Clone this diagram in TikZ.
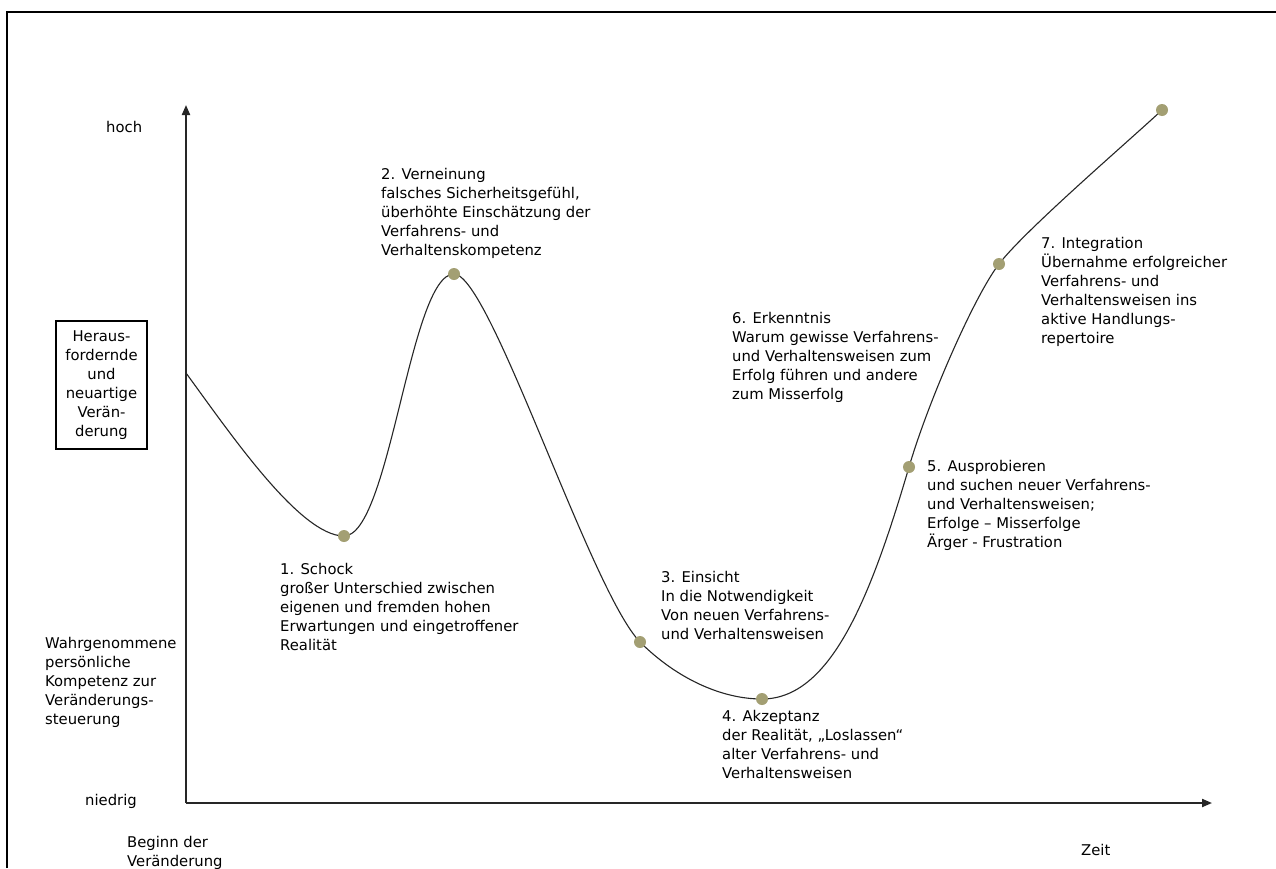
\documentclass[tikz,border=0pt]{standalone}
\usepackage{fontspec}
\setmainfont{DejaVu Sans}
\usetikzlibrary{arrows.meta}
\definecolor{stagecol}{HTML}{A39F73}
\begin{document}
\begin{tikzpicture}[x=1pt,y=-1pt,
  lbl/.style={anchor=north west, inner sep=0pt, align=left,
    font=\fontsize{14.8}{19}\selectfont},
  axisline/.style={line width=2pt, black!85, -{Triangle[length=10pt,width=8pt]}},
  curveline/.style={line width=1.1pt, black!85},
  stagedot/.style={circle, fill=stagecol, minimum size=12pt, inner sep=0pt},
  framebox/.style={draw, line width=1.6pt, inner sep=0pt, minimum width=91pt,
    minimum height=128pt, align=center, font=\fontsize{14.8}{19}\selectfont}]
\useasboundingbox (0,0) rectangle (1276,868);
\fill[white] (0,0) rectangle (1276,868);
% outer frame (top and left edges)
\draw[line width=2pt] (7,868) -- (7,12) -- (1276,12);

% axes
\coordinate (origin) at (186,803);
\coordinate (ytip) at (186,105);
\coordinate (xtip) at (1212,803);
\draw[axisline] (origin) -- (ytip);
\draw[axisline] (origin) -- (xtip);

% axis labels
\node[lbl] (hoch) at (106,121) {hoch};
\node[lbl] (niedrig) at (85,794) {niedrig};
\node[lbl] (kompetenz) at (45,637) {Wahrgenommene\\persönliche\\Kompetenz zur\\Veränderungs-\\steuerung};
\node[lbl] (beginn) at (127,836) {Beginn der\\Veränderung};
\node[lbl] (zeit) at (1081,844) {Zeit};
\node[framebox] (trigger) at (101.5,385) {Heraus-\\fordernde\\und\\neuartige\\Verän-\\derung};

% stages on the curve
\coordinate (s0) at (186,373);
\coordinate (s1) at (344,536);
\coordinate (s2) at (454,274);
\coordinate (s3) at (640,642);
\coordinate (s4) at (762,699);
\coordinate (s5) at (909,467);
\coordinate (s6) at (999,264);
\coordinate (s7) at (1162,110);

\draw[curveline] (s0)
  .. controls (230,433) and (300,536) .. (s1)
  .. controls (390,536) and (410,274) .. (s2)
  .. controls (490,274) and (590,590) .. (s3)
  .. controls (675,677) and (720,699) .. (s4)
  .. controls (830,699) and (870,600) .. (s5)
  .. controls (929,399) and (975,295) .. (s6)
  .. controls (1025,230) and (1130,140) .. (s7);

\foreach \s in {s1,s2,s3,s4,s5,s6,s7}
  \node[stagedot] (dot-\s) at (\s) {};

% stage descriptions
\node[lbl] (l1) at (280,563) {1. Schock\\großer Unterschied zwischen\\eigenen und fremden hohen\\Erwartungen und eingetroffener\\Realität};
\node[lbl] (l2) at (381,168) {2. Verneinung\\falsches Sicherheitsgefühl,\\überhöhte Einschätzung der\\Verfahrens- und\\Verhaltenskompetenz};
\node[lbl] (l3) at (661,571) {3. Einsicht\\In die Notwendigkeit\\Von neuen Verfahrens-\\und Verhaltensweisen};
\node[lbl] (l4) at (722,710) {4. Akzeptanz\\der Realität, „Loslassen“\\alter Verfahrens- und\\Verhaltensweisen};
\node[lbl] (l5) at (927,460) {5. Ausprobieren\\und suchen neuer Verfahrens-\\und Verhaltensweisen;\\Erfolge – Misserfolge\\Ärger - Frustration};
\node[lbl] (l6) at (732,312) {6. Erkenntnis\\Warum gewisse Verfahrens-\\und Verhaltensweisen zum\\Erfolg führen und andere\\zum Misserfolg};
\node[lbl] (l7) at (1041,237) {7. Integration\\Übernahme erfolgreicher\\Verfahrens- und\\Verhaltensweisen ins\\aktive Handlungs-\\repertoire};
\end{tikzpicture}
\end{document}
